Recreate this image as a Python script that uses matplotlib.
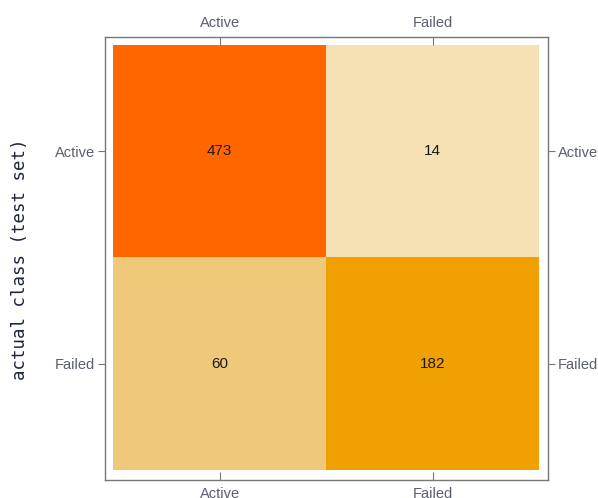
import matplotlib

matplotlib.use("Agg")

import matplotlib.pyplot as plt
from matplotlib.colors import LinearSegmentedColormap, Normalize
import numpy as np

# confusion matrix (rows: actual class, columns: predicted class)
classes = ["Active", "Failed"]
counts = np.array([[473, 14],
                   [60, 182]])

plt.rcParams["font.family"] = ["Liberation Sans", "DejaVu Sans"]

cmap = LinearSegmentedColormap.from_list(
    "conf",
    [(0.0, "#f5e1b4"), (0.10, "#f0c878"), (0.366, "#f0a000"), (1.0, "#ff6600")],
)
norm = Normalize(vmin=counts.min(), vmax=counts.max())

fig = plt.figure(figsize=(5.98, 4.98), dpi=100)
ax = fig.add_axes([105 / 598, 1 - 480 / 498, 443 / 598, 443 / 498])

ax.imshow(counts, cmap=cmap, norm=norm, extent=(0, 2, 2, 0), aspect="auto",
          interpolation="nearest")
for i in range(counts.shape[0]):
    for j in range(counts.shape[1]):
        ax.text(j + 0.5, i + 0.5, str(counts[i, j]), ha="center", va="center",
                fontsize=11, color="#1a1a1a")

ax.set_xlim(-0.038, 2.042)
ax.set_ylim(2.047, -0.038)

frame_col = "#777777"
lab_col = "#5a5f6e"
for s in ax.spines.values():
    s.set_color(frame_col)
    s.set_linewidth(1.0)

ax.set_xticks([0.5, 1.5])
ax.set_xticklabels(classes)
ax.set_yticks([0.5, 1.5])
ax.set_yticklabels(classes)
ax.tick_params(axis="x", which="both", top=True, bottom=True, labeltop=True,
               labelbottom=True, direction="in", length=6, color=frame_col,
               labelcolor=lab_col, labelsize=10.5, pad=5)
ax.tick_params(axis="y", which="both", left=True, right=True, labelleft=True,
               labelright=True, direction="out", length=5, color=frame_col,
               labelcolor=lab_col, labelsize=10.5, pad=2)

fig.text(20 / 598, 1 - 259 / 498, "actual class (test set)", rotation=90,
         ha="center", va="center", fontsize=12.5, color="#1f2440",
         family="DejaVu Sans Mono")

fig.savefig("out.png", dpi=100)
plt.close(fig)
